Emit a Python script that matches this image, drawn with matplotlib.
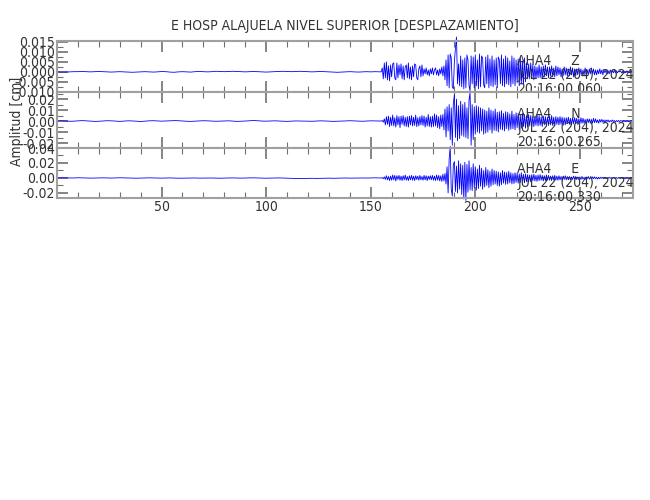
import numpy as np
import matplotlib
matplotlib.use("Agg")
import matplotlib.pyplot as plt
from matplotlib import font_manager
from matplotlib.ticker import MultipleLocator, FormatStrFormatter

# buscar una fuente estrecha, si existe
narrow = None
for f in font_manager.fontManager.ttflist:
    st = str(f.stretch).lower()
    if ('narrow' in f.name.lower() or 'condensed' in f.name.lower()
            or st in ('condensed', 'semi-condensed', 'extra-condensed')):
        if f.style == 'normal' and f.weight in (400, 'normal', 300, 'light'):
            narrow = (f.name, f.stretch)
            break

font_kw = {}
if narrow is not None:
    plt.rcParams['font.family'] = [narrow[0], 'DejaVu Sans']
    font_kw = {'fontstretch': narrow[1]}
    fsize = 10
else:
    plt.rcParams['font.family'] = ['DejaVu Sans']
    fsize = 8

# Datos (amplitud en unidades de 1e-4 cm)
# parte tranquila: muestras cada 2 s desde 0 s
# parte activa: muestras cada 0.5 s desde 155 s
dt_quiet = 2.0
dt_active = 0.5
t_start_active = 155.0

z_quiet = [0, -1, -1, 0, 1, 1, 2, 1, 0, 1, 2, 1, 0, -1, 0, 1, 0, -1, -2, -1,
           0, 1, 0, -1, 0, 2, 1, -1, -2, 0, 1, 0, -1, 1, 2, 1, 0, 1, 3, 2,
           1, 2, 3, 2, 1, 0, 1, 2, 1, 0, -1, 0, 1, 2, 3, 2, 1, 2, 3, 2,
           1, 0, 1, 2, 1, 0, -1, -2, -1, 0, 1, 0, -1, 0, 1, 0, 1, 0]
z_active = [0, 20, -35, 45, -30, 50, -40, 30, -45, 35,
            -25, 40, 45, -30, -40, 45, -30, 35, -15, 40,
            -35, 30, -40, 25, 35, -30, 45, -35, 25, -40,
            30, -25, 40, 35, -30, -40, 15, 30, -25, 35,
            -20, 15, -10, 20, -15, 10, -20, 15, -10, 20,
            -15, 10, 20, -15, 10, -20, 15, -10, 25, -20,
            30, -40, 60, -70, 85, -80, 90, 70, -75, -85,
            50, 120, 175, -60, 40, -70, 80, -75, 60, -85,
            70, -80, 85, 60, -70, -95, 80, -60, 75, -80,
            85, -70, 60, -85, 90, -75, 80, 70, -65, -80,
            75, -60, 85, -80, 65, -70, 80, -75, 60, -65,
            70, -80, 75, 60, -60, 85, -70, 65, -75, 80,
            -60, 70, -65, 55, -75, 80, -60, 70, -70, 60,
            -55, 65, -70, 75, -60, 55, -65, 70, -50, 45,
            -35, 40, -35, 45, -30, 35, -40, 30, -35, 25,
            -30, 35, -30, 25, -35, 30, -25, 35, -20, 25,
            -30, 25, -20, 30, -25, 20, -25, 30, -20, 25,
            -15, 20, -25, 15, -20, 25, -15, 20, -20, 15,
            -20, 25, -15, 20, -25, 15, -20, 15, -15, 20,
            -10, 15, -20, 10, -15, 20, -15, 10, -15, 15,
            -10, 20, -10, 15, -15, 10, -15, 10, -10, 15,
            -10, 10, -15, 10, -5, 10, -10, 5, -10, 10,
            -5, 5, -5, 10, -5, 5, -5, 5, 0, 5,
            -5, 0, 5, -5, 0, 5, 0, -5, 0, 5, 0]

n_quiet = [0, 3, 1, -2, -1, 2, 4, 2, 0, -3, -2, 1, 3, 2, -1, -3, 0, 2, 1, -2,
           -4, -1, 2, 3, 1, -1, 0, 2, 4, 3, 0, -2, -3, -1, 1, 3, 2, 0, -2, -1,
           1, 2, 0, -3, -2, 0, 3, 5, 2, 0, -1, 1, 2, 0, -2, -3, -1, 1, 0, -2,
           -3, -2, 0, 2, 1, -1, -3, -2, 0, 1, 3, 1, -1, -2, 0, 2, 1, 0]
n_active = [0, 5, -10, 20, -35, 40, -30, 45, -50, 35,
            -40, 55, -45, 30, -55, 50, -35, 40, -60, 45,
            -30, 50, -45, 35, -50, 40, -55, 45, -35, 50,
            -45, 35, -40, 55, -50, 30, -45, 40, -35, 50,
            -40, 45, -55, 35, -45, 60, -50, 40, -55, 45,
            -50, 65, -45, 55, -60, 40, -70, 55, -50, 60,
            -80, 110, -145, 130, -90, 150, -170, 120, -220, 160,
            240, -150, 200, -180, 140, -160, 180, -130, 150, -140,
            170, -150, 120, -160, 190, 260, -220, 150, -170, 130,
            -120, 140, -100, 130, -110, 120, -90, 110, -120, 100,
            -110, 90, -100, 120, -80, 100, -110, 90, -85, 110,
            -90, 80, -100, 85, -75, 95, -80, 70, -90, 85,
            -70, 80, -85, 65, -75, 90, -70, 60, -80, 75,
            -60, 70, -75, 55, -65, 70, -50, 60, -65, 50,
            -55, 60, -45, 50, -55, 40, -50, 45, -40, 55,
            -45, 50, -40, 35, -50, 45, -35, 40, -45, 35,
            -40, 45, -35, 50, -40, 35, -45, 40, -30, 35,
            -35, 40, -30, 35, -40, 30, -35, 30, -25, 35,
            -30, 25, -35, 30, -25, 30, -20, 25, -30, 20,
            -25, 30, -20, 25, -20, 15, -25, 20, -15, 20,
            -20, 15, -20, 25, -15, 20, -15, 10, -20, 15,
            -10, 15, -10, 10, -15, 10, -5, 10, -10, 5,
            -5, 10, -5, 5, -10, 5, -5, 5, -5, 5,
            0, -5, 5, 0, -5, 5, 0, -5, 0, 5, 0]

e_quiet = [0, 2, 1, -1, 0, 3, 2, 0, -2, -1, 1, 2, 0, -1, 1, 3, 2, 0, -2, -3,
           -1, 0, 2, 1, -1, -2, 0, 1, -1, -3, -2, 0, 1, 0, -2, -1, 1, 0, -2, -3,
           -1, 0, 1, -1, -2, 0, 1, 2, 0, -1, -3, -2, 0, 1, -1, -2, -4, -6, -8, -7,
           -5, -4, -6, -5, -3, -2, -4, -3, -1, 0, -2, -1, 1, 0, -1, 1, 2, 0]
e_active = [0, 5, -10, 15, -20, 30, -25, 20, -35, 25,
            -30, 40, -25, 35, -40, 30, -20, 35, -30, 25,
            -35, 30, -25, 40, -30, 20, -35, 30, -25, 35,
            -30, 25, -35, 30, -20, 25, -30, 35, -25, 20,
            -30, 35, -25, 30, -35, 25, -20, 30, -25, 35,
            -30, 25, -35, 40, -30, 35, -40, 30, -45, 50,
            -40, 60, -80, 150, -200, 250, 420, -150, -240, 180,
            220, -180, 160, -200, 230, -150, 190, -220, 170, -280,
            210, -300, 180, -190, 230, -160, 140, -170, 190, -130,
            150, -160, 120, -140, 170, -110, 130, -150, 100, -120,
            140, -100, 110, -130, 90, -110, 120, -90, 100, -80,
            90, -100, 80, -110, 70, -90, 100, -70, 80, -85,
            75, -80, 90, -65, 70, -80, 60, -75, 70, -60,
            65, -70, 55, -60, 70, -55, 50, -65, 55, -50,
            45, -55, 40, -50, 45, -35, 50, -40, 35, -45,
            40, -35, 45, -30, 35, -40, 30, -35, 40, -30,
            35, -30, 25, -35, 30, -25, 35, -30, 25, -30,
            30, -25, 20, -30, 25, -20, 30, -25, 20, -25,
            20, -25, 15, -20, 25, -15, 20, -20, 15, -20,
            15, -20, 20, -15, 10, -20, 15, -10, 20, -15,
            10, -15, 15, -10, 15, -10, 10, -15, 10, -10,
            10, -5, 10, -10, 5, -10, 5, -5, 10, -5,
            5, -5, 5, -5, 0, 5, -5, 5, 0, -5,
            0, 5, 0, -5, 0, 5, 0, -5, 0, 0, 0]

components = ["Z", "N", "E"]
start_times = ["20:16:00.060", "20:16:00.265", "20:16:00.330"]
station = "AHA4"
date_label = "JUL 22 (204), 2024"
x_ticks = [50, 100, 150, 200, 250]
ylims = [(-0.0101, 0.0155), (-0.0245, 0.0264), (-0.0267, 0.040)]
y_steps = [0.005, 0.01, 0.02]
y_formats = ['%.3f', '%.2f', '%.2f']
label_mid = [0.333, 0.357, 0.30]   # posición vertical de la línea central del rótulo

traces = [(z_quiet, z_active), (n_quiet, n_active), (e_quiet, e_active)]


def build_trace(quiet, active):
    tq = np.arange(len(quiet)) * dt_quiet
    ta = t_start_active + np.arange(len(active)) * dt_active
    t = np.concatenate([tq, ta])
    y = np.concatenate([np.array(quiet), np.array(active)]) * 1e-4
    return t, y


fig = plt.figure(figsize=(6.5, 5.0), dpi=100)
W, H = 650, 500
left, right = 57, 633
edges = [41, 92, 148, 198]
frame_col = '#a0a0a0'
text_col = '#333333'

for i in range(3):
    top, bot = edges[i], edges[i + 1]
    ax = fig.add_axes([left / W, 1 - bot / H, (right - left) / W, (bot - top) / H])
    t, y = build_trace(*traces[i])
    ax.plot(t, y, color='#0000ff', lw=0.6, clip_on=False)
    ax.set_xlim(0, 275.4)
    ax.set_ylim(*ylims[i])
    ax.xaxis.set_major_locator(MultipleLocator(50))
    ax.xaxis.set_minor_locator(MultipleLocator(10))
    ax.yaxis.set_major_locator(MultipleLocator(y_steps[i]))
    ax.yaxis.set_minor_locator(MultipleLocator(y_steps[i] / 2))
    ax.yaxis.set_major_formatter(FormatStrFormatter(y_formats[i]))
    ax.tick_params(which='both', direction='in', top=True, right=True,
                   color='#707070', labelcolor=text_col, labelsize=fsize, pad=1.5)
    ax.tick_params(which='major', length=8, width=1.2)
    ax.tick_params(which='minor', length=4, width=0.8)
    for s in ax.spines.values():
        s.set_color(frame_col)
        s.set_linewidth(1.5)
    if i < 2:
        ax.tick_params(labelbottom=False)
    else:
        ax.set_xticks(x_ticks)
    for lab in ax.get_xticklabels() + ax.get_yticklabels():
        lab.set(**font_kw)
    ax.text(220, label_mid[i], f"{station}     {components[i]}\n{date_label}\n{start_times[i]}",
            transform=ax.get_xaxis_transform(), fontsize=fsize, color=text_col,
            va='center', ha='left', linespacing=1.0, **font_kw)

fig.text(345 / W, 1 - 26 / H, "E HOSP ALAJUELA NIVEL SUPERIOR [DESPLAZAMIENTO]",
         ha='center', va='center', fontsize=fsize, color=text_col, **font_kw)
fig.text(17 / W, 1 - 121 / H, "Amplitud [cm]", rotation=90,
         ha='center', va='center', fontsize=fsize, color=text_col, **font_kw)

fig.savefig("out.png", dpi=100)
